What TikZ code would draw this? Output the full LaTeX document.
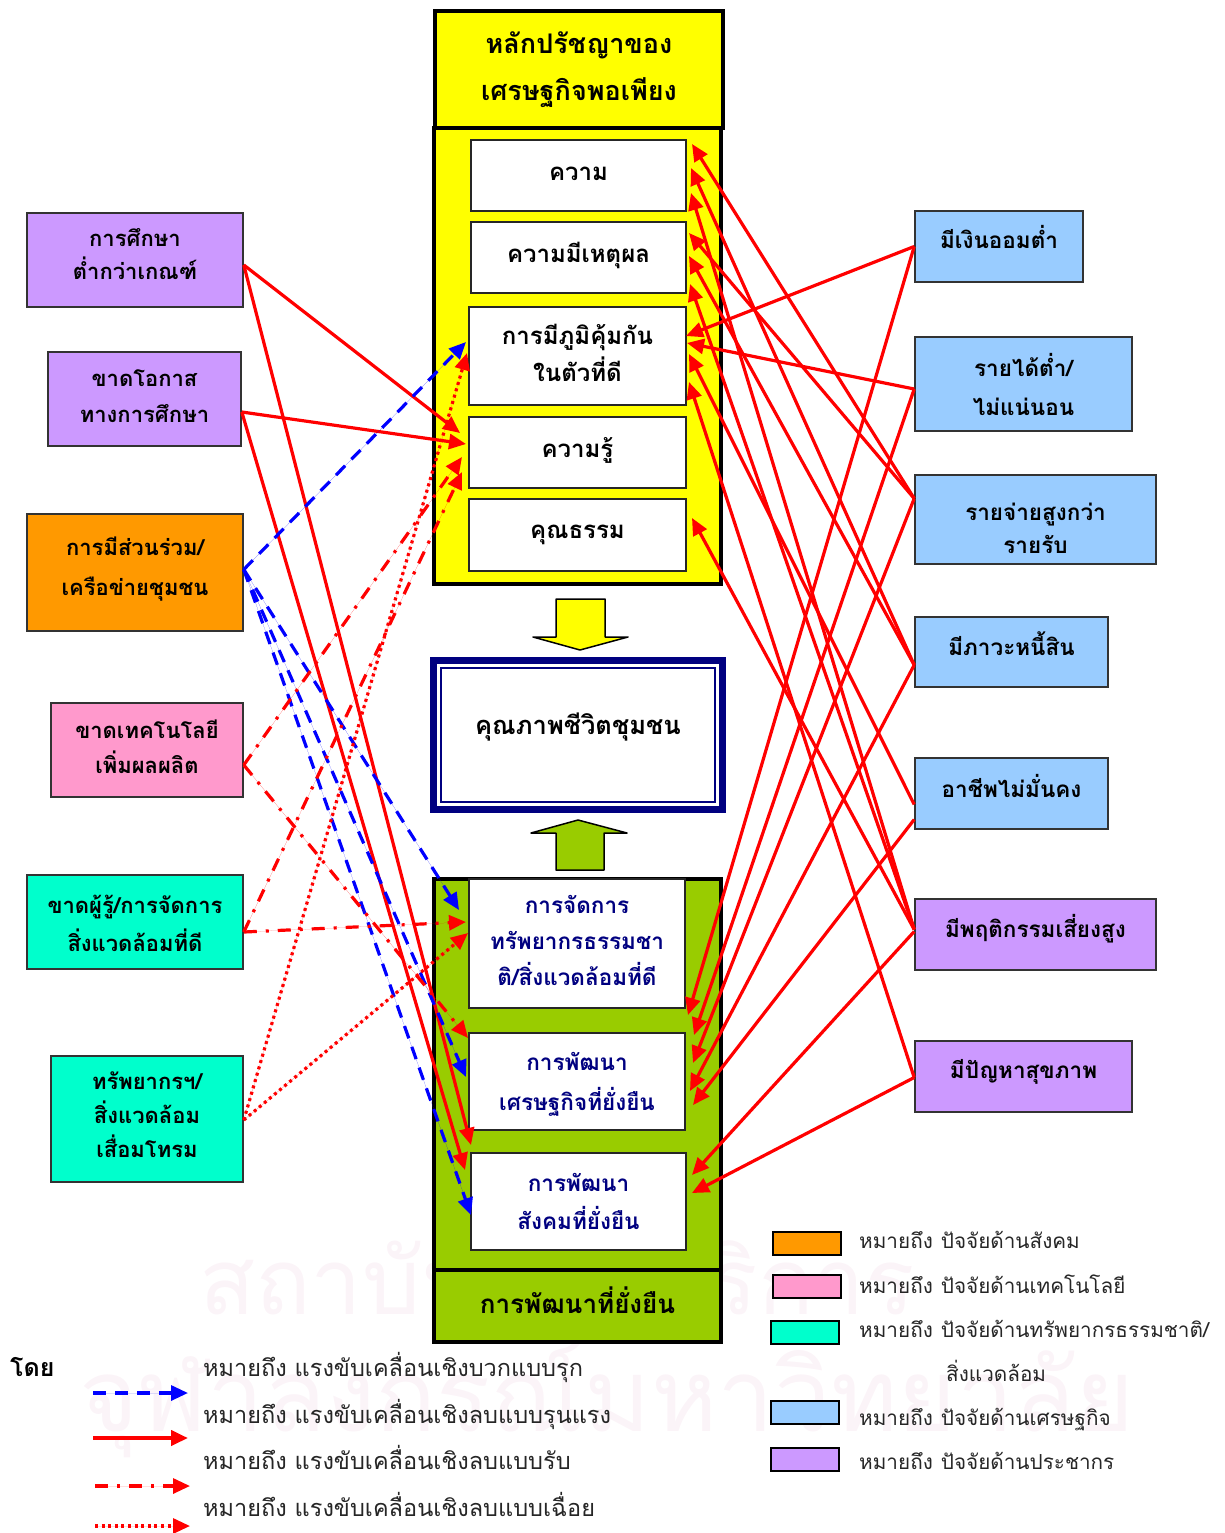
\documentclass[tikz,border=0pt]{standalone}
\usepackage{fontspec}
\setmainfont[Script=Thai]{Loma}
\usetikzlibrary{arrows.meta}
\definecolor{wm}{HTML}{FBF4F8}
\definecolor{yel}{RGB}{255,255,0}
\definecolor{rd}{RGB}{255,0,0}
\definecolor{bl}{RGB}{0,0,255}
\definecolor{pur}{HTML}{CC99FF}
\definecolor{org}{HTML}{FF9900}
\definecolor{pnk}{HTML}{FF99CC}
\definecolor{tur}{HTML}{00FFCC}
\definecolor{sky}{HTML}{99CCFF}
\definecolor{grn}{HTML}{99CC00}
\definecolor{nvy}{HTML}{000080}
% name, x1, y1, x2, y2, style, text, vertical offset of the text
\newcommand{\rbox}[8]{%
  \pgfmathsetmacro\bw{#4-#2}\pgfmathsetmacro\bh{#5-#3}%
  \pgfmathsetmacro\bx{(#2+#4)/2}\pgfmathsetmacro\by{(#3+#5)/2}\pgfmathsetmacro\ty{\by+#8}%
  \node[#6,minimum width=\bw pt,minimum height=\bh pt,inner sep=0pt] (#1) at (\bx,\by) {};
  \node[#6,draw=none,fill=none,inner sep=0pt] (#1t) at (\bx,\ty) {#7};}
\tikzset{
  x=1pt,y=-1pt,
  fsz/.style 2 args={font=\bfseries\fontsize{#1}{#2}\selectfont},
  txt/.style={font=\bfseries\fontsize{22}{33}\selectfont,align=center,text=black},
  side/.style={draw=black!80,line width=1.6pt,txt},
  sider/.style={side,font=\bfseries\fontsize{22.5}{33}\selectfont},
  inner/.style={draw=black!85,line width=1.6pt,fill=white,txt,font=\bfseries\fontsize{24}{37}\selectfont},
  innerb/.style={inner,text=nvy},
  frame/.style={draw=black,line width=4pt},
  swatch/.style={draw=black,line width=2pt},
  leg/.style={font=\fontsize{23.5}{26}\selectfont,anchor=west,inner sep=0pt,text=black!85},
  legr/.style={font=\fontsize{20.7}{24}\selectfont,anchor=west,inner sep=0pt,text=black!85},
  hd/.style={-{Triangle[length=17pt,width=15pt]}},
  sol/.style={hd,draw=rd,fill=rd,line width=3.2pt},
  blu/.style={hd,draw=bl,fill=bl,line width=3.2pt,dash pattern=on 13pt off 9pt},
  dsd/.style={hd,draw=rd,fill=rd,line width=3.2pt,dash pattern=on 13pt off 9pt on 3pt off 9pt},
  dot/.style={hd,draw=rd,fill=rd,line width=3.2pt,dash pattern=on 3pt off 3.6pt},
  blk/.style={draw=black,line width=1.5pt,line join=round},
}
\begin{document}
\begin{tikzpicture}
\useasboundingbox (0,0) rectangle (1224,1533);
% faint watermark
\node[text=wm,font=\fontsize{92}{100}\selectfont,inner sep=0pt] (wma) at (557,1278) {สถาบันวิทยบริการ};
\node[text=wm,font=\fontsize{101}{110}\selectfont,inner sep=0pt] (wmb) at (607,1400) {จุฬาลงกรณ์มหาวิทยาลัย};
% centre column
\rbox{ybody}{434}{128}{721}{584}{frame,fill=yel}{}{0}
\rbox{yhead}{435}{11}{723}{128}{frame,fill=yel,txt,fsz={27}{47}}{หลักปรัชญาของ\\เศรษฐกิจพอเพียง}{0}
\rbox{gbody}{434}{879}{721}{1270}{frame,fill=grn}{}{0}
\rbox{gfoot}{434}{1270}{721}{1342}{frame,fill=grn,txt,fsz={26}{30}}{การพัฒนาที่ยั่งยืน}{-6}
\rbox{p1}{471}{140}{686}{211}{inner}{ความ}{-2}
\rbox{p2}{471}{222}{686}{293}{inner}{ความมีเหตุผล}{-2}
\rbox{p3}{469}{307}{686}{405}{inner}{การมีภูมิคุ้มกัน\\ในตัวที่ดี}{-3}
\rbox{p4}{469}{417}{686}{488}{inner}{ความรู้}{-2}
\rbox{p5}{469}{499}{686}{571}{inner}{คุณธรรม}{0}
\rbox{q1}{469}{879}{685}{1008}{innerb,fsz={22.5}{36}}{การจัดการ\\ทรัพยากรธรรมชา\\ติ/สิ่งแวดล้อมที่ดี}{-3}
\rbox{q2}{469}{1033}{685}{1130}{innerb,fsz={22.5}{40}}{การพัฒนา\\เศรษฐกิจที่ยั่งยืน}{3}
\rbox{q3}{471}{1153}{686}{1250}{innerb,fsz={22.5}{38}}{การพัฒนา\\สังคมที่ยั่งยืน}{0}
\rbox{life}{433.5}{660.5}{722.5}{809.5}{draw=nvy,line width=7pt,fill=white}{}{0}
\rbox{lifein}{441}{668}{715}{802}{draw=nvy,line width=1.6pt,txt,fsz={25.5}{30}}{คุณภาพชีวิตชุมชน}{-8}
% block arrows
\draw[blk,fill=yel] (556,599) -- (605,599) -- (605,637) -- (628,637) -- (580,650) -- (533,637) -- (556,637) -- cycle;
\draw[blk,fill=grn] (556,870) -- (604,870) -- (604,833) -- (627,833) -- (578,820) -- (531,833) -- (556,833) -- cycle;
% left factors
\rbox{a1}{27}{213}{243}{307}{side,fill=pur}{การศึกษา\\ต่ำกว่าเกณฑ์}{-6}
\rbox{a2}{48}{352}{241}{446}{side,fill=pur,fsz={22}{36}}{ขาดโอกาส\\ทางการศึกษา}{-2.5}
\rbox{a3}{27}{514}{243}{631}{side,fill=org,fsz={22}{40}}{การมีส่วนร่วม/\\เครือข่ายชุมชน}{-3.5}
\rbox{a4}{51}{703}{243}{797}{side,fill=pnk,fsz={22}{35}}{ขาดเทคโนโลยี\\เพิ่มผลผลิต}{-3}
\rbox{a5}{27}{875}{243}{969}{side,fill=tur,fsz={22}{38}}{ขาดผู้รู้/การจัดการ\\สิ่งแวดล้อมที่ดี}{1}
\rbox{a6}{51}{1056}{243}{1182}{side,fill=tur,fsz={22}{34}}{ทรัพยากรฯ/\\สิ่งแวดล้อม\\เสื่อมโทรม}{-4}
% right factors
\rbox{b1}{915}{211}{1083}{282}{sider,fill=sky}{มีเงินออมต่ำ}{-10}
\rbox{b2}{915}{337}{1132}{431}{sider,fill=sky,fsz={22.5}{39}}{รายได้ต่ำ/\\ไม่แน่นอน}{0}
\rbox{b3}{915}{475}{1156}{564}{sider,fill=sky}{รายจ่ายสูงกว่า\\รายรับ}{9}
\rbox{b4}{915}{617}{1108}{687}{sider,fill=sky}{มีภาวะหนี้สิน}{-8}
\rbox{b5}{915}{758}{1108}{829}{sider,fill=sky}{อาชีพไม่มั่นคง}{-8}
\rbox{b6}{915}{899}{1156}{970}{sider,fill=pur}{มีพฤติกรรมเสี่ยงสูง}{-6}
\rbox{b7}{915}{1041}{1132}{1112}{sider,fill=pur}{มีปัญหาสุขภาพ}{-5}
% arrow targets
\coordinate (t1) at (692,144);\coordinate (t2) at (691,168);\coordinate (t3) at (691,193);
\coordinate (t4) at (689,233);\coordinate (t5) at (689,256);\coordinate (t6) at (690,284);
\coordinate (t7) at (686,336);\coordinate (t8) at (687,343);\coordinate (t9) at (689,354);
\coordinate (t10) at (689,382);\coordinate (t11) at (692,518);
\coordinate (u1) at (688,1015);\coordinate (u2) at (694,1035);\coordinate (u3) at (693,1063);
\coordinate (u4) at (690,1091);\coordinate (u5) at (693,1105);\coordinate (u6) at (692,1175);\coordinate (u7) at (692,1193);
\coordinate (l1) at (460,433);\coordinate (l2) at (466,444);\coordinate (l3) at (471,1145);\coordinate (l4) at (465,1170);
\coordinate (m1) at (466,342);\coordinate (m2) at (459,910);\coordinate (m3) at (466,1077);\coordinate (m4) at (471,1215);
\coordinate (n1) at (462,457);\coordinate (n2) at (468,1038);\coordinate (n3) at (462,472);\coordinate (n4) at (466,922);
\coordinate (o1) at (467,353);\coordinate (o2) at (468,933);
% connectors
\draw[sol] ([yshift=21pt]b3.west) -- (t1);
\draw[sol] ([yshift=-13pt]b4.west) -- (t2);
\draw[sol] ([yshift=5pt]b6.west) -- (t3);
\draw[sol] ([yshift=21pt]b3.west) -- (t4);
\draw[sol] ([yshift=-13pt]b4.west) -- (t5);
\draw[sol] ([yshift=5pt]b6.west) -- (t6);
\draw[sol] (b1.west) -- (t7);
\draw[sol] ([yshift=-5pt]b2.west) -- (t8);
\draw[sol] ([yshift=-11pt]b5.west) -- (t9);
\draw[sol] ([yshift=-1pt]b7.west) -- (t10);
\draw[sol] ([yshift=5pt]b6.west) -- (t11);
\draw[sol] (b1.west) -- (u1);
\draw[sol] ([yshift=-5pt]b2.west) -- (u2);
\draw[sol] ([yshift=21pt]b3.west) -- (u3);
\draw[sol] ([yshift=-13pt]b4.west) -- (u4);
\draw[sol] ([yshift=-26pt]b5.west) -- (u5);
\draw[sol] ([yshift=3pt]b6.west) -- (u6);
\draw[sol] ([yshift=-1pt]b7.west) -- (u7);
\draw[sol] ([yshift=-5pt]a1.east) -- (l1);
\draw[sol] ([yshift=-5pt]a1.east) -- (l3);
\draw[sol] ([yshift=-13pt]a2.east) -- (l2);
\draw[sol] ([yshift=-13pt]a2.east) -- (l4);
\draw[blu] ([yshift=3pt]a3.east) -- (m1);
\draw[blu] ([yshift=3pt]a3.east) -- (m2);
\draw[blu] ([yshift=3pt]a3.east) -- (m3);
\draw[blu] ([yshift=3pt]a3.east) -- (m4);
\draw[dsd] ([yshift=-15pt]a4.east) -- (n1);
\draw[dsd] ([yshift=-15pt]a4.east) -- (n2);
\draw[dsd] ([yshift=-10pt]a5.east) -- (n3);
\draw[dsd] ([yshift=-10pt]a5.east) -- (n4);
\draw[dot] ([yshift=-1pt]a6.east) -- (o1);
\draw[dot] ([yshift=-1pt]a6.east) -- (o2);
% legend, bottom left
\node[font=\bfseries\fontsize{25}{28}\selectfont,anchor=west,inner sep=0pt] (by) at (10,1367) {โดย};
\node[leg] (k1) at (203,1367) {หมายถึง แรงขับเคลื่อนเชิงบวกแบบรุก};
\node[leg] (k2) at (203,1414) {หมายถึง แรงขับเคลื่อนเชิงลบแบบรุนแรง};
\node[leg] (k3) at (203,1457) {หมายถึง แรงขับเคลื่อนเชิงลบแบบรับ};
\node[leg] (k4) at (203,1504) {หมายถึง แรงขับเคลื่อนเชิงลบแบบเฉื่อย};
\coordinate (c1a) at (93,1393);\coordinate (c1b) at (188,1393);
\coordinate (c2a) at (93,1438);\coordinate (c2b) at (188,1438);
\coordinate (c3a) at (95,1486);\coordinate (c3b) at (190,1486);
\coordinate (c4a) at (95,1526);\coordinate (c4b) at (190,1526);
\draw[blu] (c1a) -- (c1b);
\draw[sol,line width=4pt] (c2a) -- (c2b);
\draw[dsd] (c3a) -- (c3b);
\draw[dot] (c4a) -- (c4b);
% legend, bottom right
\rbox{s1}{773}{1232}{841}{1255}{swatch,fill=org}{}{0}
\rbox{s2}{773}{1275}{841}{1298}{swatch,fill=pnk}{}{0}
\rbox{s3}{771}{1321}{839}{1344}{swatch,fill=tur}{}{0}
\rbox{s4}{771}{1401}{839}{1424}{swatch,fill=sky}{}{0}
\rbox{s5}{771}{1448}{839}{1471}{swatch,fill=pur}{}{0}
\node[legr] (r1) at (859,1240) {หมายถึง\hspace{8pt}ปัจจัยด้านสังคม};
\node[legr] (r2) at (859,1284) {หมายถึง\hspace{8pt}ปัจจัยด้านเทคโนโลยี};
\node[legr] (r3) at (859,1329) {หมายถึง\hspace{8pt}ปัจจัยด้านทรัพยากรธรรมชาติ/};
\node[legr] (r3b) at (946,1371) {สิ่งแวดล้อม};
\node[legr] (r4) at (859,1420) {หมายถึง\hspace{8pt}ปัจจัยด้านเศรษฐกิจ};
\node[legr] (r5) at (859,1461) {หมายถึง\hspace{8pt}ปัจจัยด้านประชากร};
\end{tikzpicture}
\end{document}
